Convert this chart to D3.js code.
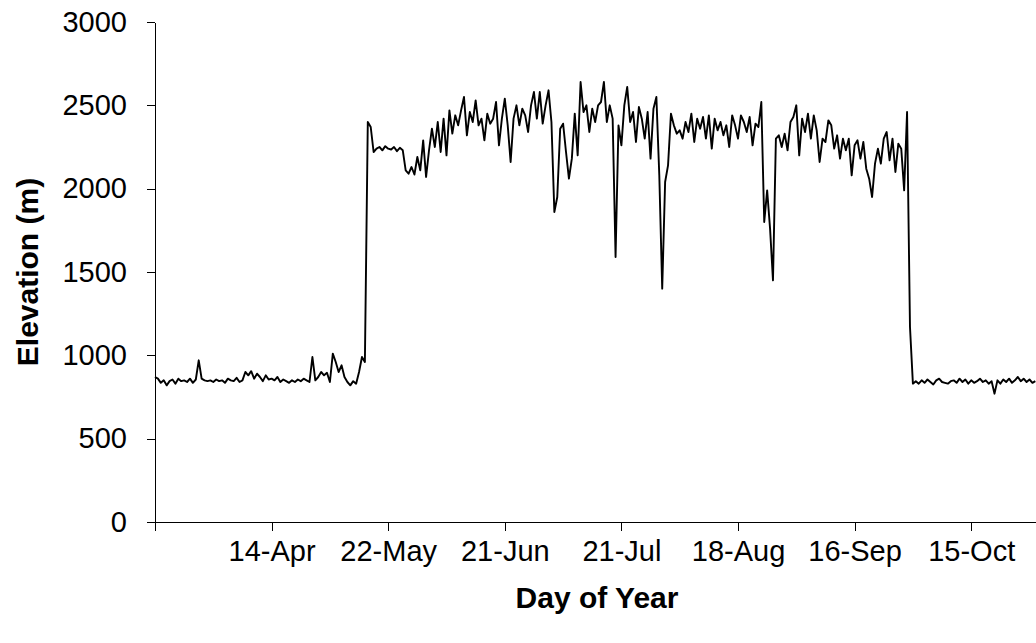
<!DOCTYPE html>
<html>
<head>
<meta charset="utf-8">
<script src="https://cdn.jsdelivr.net/npm/d3@7"></script>
<style>
  body { margin: 0; background: #fff; }
  svg text { font-family: Arial, "Liberation Sans", sans-serif; fill: #000; }
</style>
</head>
<body>
<svg id="chart" width="1036" height="643"></svg>
<script>
// elevation readings (m), one per sample
const elevation = [
  870, 860, 835, 850, 820, 845, 855, 830, 860, 845,
  850, 840, 860, 835, 855, 970, 860, 850, 845, 850,
  840, 855, 845, 850, 835, 860, 850, 845, 865, 840,
  850, 900, 880, 905, 860, 890, 870, 845, 880, 855,
  860, 850, 870, 840, 855, 845, 835, 850, 840, 855,
  845, 860, 850, 840, 990, 850, 870, 900, 880, 895,
  840, 1010, 960, 900, 940, 870, 840, 820, 845, 830,
  900, 990, 960, 2400, 2370, 2220, 2240, 2250, 2230, 2255,
  2240, 2235, 2250, 2225, 2245, 2230, 2110, 2090, 2130, 2085,
  2190, 2110, 2290, 2070, 2230, 2360, 2250, 2400, 2220, 2420,
  2200, 2470, 2330, 2440, 2380, 2470, 2550, 2320, 2460, 2400,
  2530, 2380, 2420, 2290, 2450, 2390, 2420, 2520, 2260, 2420,
  2540, 2380, 2160, 2420, 2500, 2380, 2480, 2440, 2340, 2500,
  2580, 2420, 2580, 2390, 2500, 2590, 2400, 1860, 1950, 2360,
  2390, 2220, 2060, 2180, 2450, 2200, 2640, 2460, 2500, 2340,
  2480, 2400, 2500, 2520, 2640, 2400, 2500, 2420, 1590, 2380,
  2260, 2500, 2610, 2400, 2460, 2280, 2490, 2420, 2300, 2460,
  2180, 2480, 2550, 2080, 1400, 2040, 2140, 2450, 2380, 2330,
  2350, 2300, 2400, 2340, 2450, 2280, 2420, 2360, 2430, 2300,
  2440, 2240, 2420, 2350, 2400, 2320, 2380, 2250, 2440, 2380,
  2300, 2440, 2400, 2340, 2430, 2260, 2390, 2370, 2520, 1800,
  1990, 1760, 1450, 2300, 2320, 2250, 2330, 2230, 2400, 2430,
  2500, 2200, 2420, 2340, 2450, 2300, 2440, 2350, 2160, 2300,
  2280, 2410, 2380, 2240, 2320, 2180, 2300, 2230, 2300, 2080,
  2260, 2290, 2180, 2280, 2120, 2060, 1950, 2150, 2240, 2150,
  2300, 2340, 2170, 2300, 2100, 2270, 2240, 1990, 2460, 1170,
  830, 845, 830, 850, 835, 855, 840, 825, 850, 860,
  840, 835, 830, 845, 850, 835, 860, 840, 855, 830,
  850, 835, 845, 860, 840, 850, 830, 845, 770, 850,
  830, 855, 840, 860, 835, 850, 870, 845, 860, 840,
  855, 835, 845
];

// category axis: a tick every 40 samples
const tickIndex = [0, 40, 80, 120, 160, 200, 240, 280];
const tickLabels = ["", "14-Apr", "22-May", "21-Jun", "21-Jul", "18-Aug", "16-Sep", "15-Oct"];
const yTicks = [0, 500, 1000, 1500, 2000, 2500, 3000];

const svg = d3.select("#chart");

const x = d3.scaleLinear()
  .domain([0, elevation.length - 1])
  .range([155, 155 + (elevation.length - 1) * 2.915]);

const y = d3.scaleLinear()
  .domain([0, 3000])
  .range([522, 22]);

// x axis
svg.append("g")
  .attr("transform", "translate(0,522)")
  .call(d3.axisBottom(x)
    .tickValues(tickIndex)
    .tickFormat((d, i) => tickLabels[i])
    .tickSize(9)
    .tickSizeOuter(0)
    .tickPadding(9));

// y axis, plain numbers (no thousands comma)
svg.append("g")
  .attr("transform", "translate(155,0)")
  .call(d3.axisLeft(y)
    .tickValues(yTicks)
    .tickFormat(d3.format("d"))
    .tickSize(8)
    .tickSizeOuter(0)
    .tickPadding(20));

svg.selectAll(".domain, .tick line")
  .attr("stroke", "#000")
  .attr("shape-rendering", "crispEdges");
svg.selectAll(".tick text")
  .style("font-size", "29px");

// the series
svg.append("path")
  .datum(elevation)
  .attr("fill", "none")
  .attr("stroke", "#000")
  .attr("stroke-width", 1.9)
  .attr("stroke-linejoin", "round")
  .attr("d", d3.line()
    .x((d, i) => x(i))
    .y(d => y(d)));

// axis titles
svg.append("text")
  .attr("transform", "translate(38,272) rotate(-90)")
  .attr("text-anchor", "middle")
  .style("font-size", "30px")
  .style("font-weight", "bold")
  .text("Elevation (m)");

svg.append("text")
  .attr("x", 597)
  .attr("y", 608)
  .attr("text-anchor", "middle")
  .style("font-size", "30px")
  .style("font-weight", "bold")
  .text("Day of Year");
</script>
</body>
</html>
